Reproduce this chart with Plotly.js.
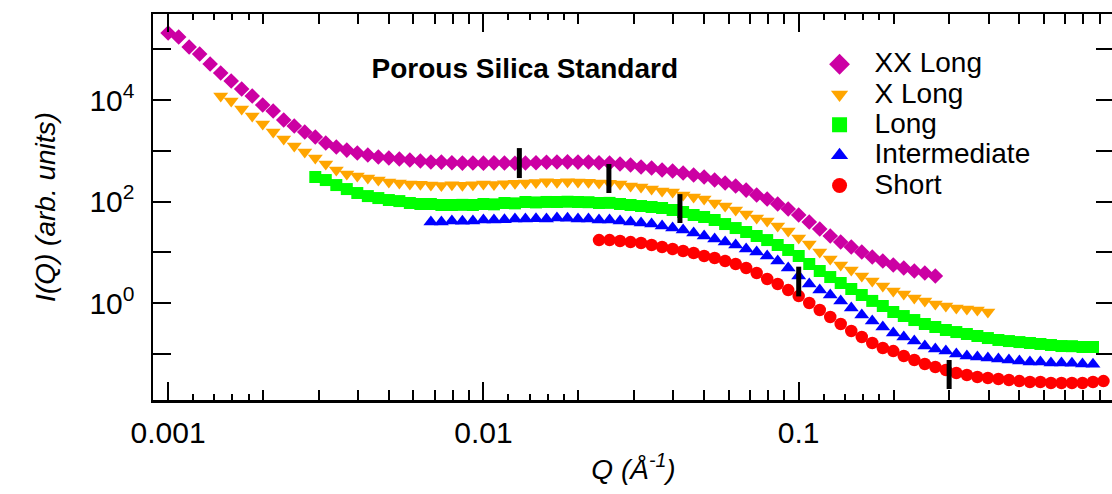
<!DOCTYPE html>
<html><head><meta charset="utf-8">
<script src="https://cdn.plot.ly/plotly-3.0.1.min.js"></script>
<style>html,body{margin:0;padding:0;overflow:hidden;background:#fff}</style>
</head><body><div id="chart"></div>
<script>
// Common Q grid (Å^-1), 30 points per decade as in the reference data
const qGrid = [
  0.001000,0.001080,0.001166,0.001259,0.001359,0.001468,0.001585,0.001711,0.001848,0.001995,
  0.002154,0.002326,0.002512,0.002712,0.002929,0.003162,0.003415,0.003687,0.003981,0.004299,
  0.004642,0.005012,0.005412,0.005843,0.006310,0.006813,0.007356,0.007943,0.008577,0.009261,
  0.01000,0.01080,0.01166,0.01259,0.01359,0.01468,0.01585,0.01711,0.01848,0.01995,
  0.02154,0.02326,0.02512,0.02712,0.02929,0.03162,0.03415,0.03687,0.03981,0.04299,
  0.04642,0.05012,0.05412,0.05843,0.06310,0.06813,0.07356,0.07943,0.08577,0.09261,
  0.1000,0.1080,0.1166,0.1259,0.1359,0.1468,0.1585,0.1711,0.1848,0.1995,
  0.2154,0.2326,0.2512,0.2712,0.2929,0.3162,0.3415,0.3687,0.3981,0.4299,
  0.4642,0.5012,0.5412,0.5843,0.6310,0.6813,0.7356,0.7943,0.8577,0.9261
];

const seriesNames = ['XX Long','X Long','Long','Intermediate','Short'];

// I(Q) values (arb. units); each series starts at the given qGrid index
const startXXLong = 0;
const iXXLong = [209000,174000,111000,80600,51200,34100,23700,16500,12000,7970,
  6070,4040,3070,2340,1870,1420,1190,1030,903,825,
  753,720,688,657,628,600,598,580,572,576,
  570,578,574,566,575,582,592,600,605,598,
  602,580,574,548,524,478,457,418,399,364,
  333,304,265,231,202,168,134,112,89.3,71.2,
  54.2,39.5,28.7,20.9,15.9,12.7,10.1,8.06,6.72,5.61,
  4.89,4.27,3.90,3.41];

const startXLong = 5;
const iXLong = [12000,9560,6650,4840,3370,2340,1700,1240,945,720,
  548,418,348,318,290,265,242,231,221,218,
  211,208,213,210,214,221,217,224,229,233,
  238,244,240,246,242,240,233,229,221,202,
  193,176,161,154,134,123,112,93.4,81.5,68.0,
  56.7,47.3,41.3,32.9,26.2,19.1,14.5,10.1,7.36,5.61,
  4.47,3.41,2.71,2.16,1.72,1.50,1.26,1.10,0.956,0.873,
  0.797,0.762,0.728,0.665];

const startLong = 14;
const iLong = [304,265,211,176,147,128,117,107,102,93.4,
  89.3,89.3,85.3,85.3,86,85.3,89.3,88,93.4,92,
  97.8,96,98,97.8,99,97.8,97,93.4,94,89.3,
  85.3,81.5,77.9,74.5,68.0,62.1,54.2,49.5,43.2,36.0,
  30.0,25.1,20.9,17.4,13.9,11.1,8.44,5.87,4.27,3.25,
  2.48,1.89,1.44,1.10,0.873,0.665,0.554,0.462,0.386,0.337,
  0.294,0.268,0.245,0.224,0.204,0.187,0.178,0.170,0.163,0.156,
  0.149,0.142,0.141,0.136,0.136];

const startIntermediate = 25;
const iIntermediate = [39.5,39.5,41.3,41,41.3,43.2,43,43.5,45.2,45,
  45.5,45.2,47.3,47,45.2,45,43.2,43,41.3,39.5,
  37.7,36.0,32.9,30.0,27.4,23.9,20.9,18.2,15.9,13.9,
  11.6,10.1,8.44,6.72,4.89,3.41,2.37,1.80,1.44,1.10,
  0.797,0.580,0.442,0.337,0.256,0.214,0.178,0.142,0.124,0.113,
  0.0989,0.0903,0.0863,0.0825,0.0788,0.0753,0.0720,0.0688,0.0685,0.0657,
  0.0655,0.0650,0.0628,0.0625];

const startShort = 41;
const iShort = [17.4,17.4,16.7,15.9,15.2,13.9,12.7,11.6,10.6,9.67,
  8.44,7.71,6.72,5.87,4.89,3.90,2.97,2.37,1.80,1.37,
  1.00,0.728,0.530,0.386,0.281,0.214,0.163,0.130,0.113,0.0903,
  0.0753,0.0628,0.0548,0.0478,0.0418,0.0381,0.0348,0.0333,0.0318,0.0304,
  0.0290,0.0278,0.0278,0.0265,0.0265,0.0265,0.0265,0.0278,0.0290];

// Vertical black marks (Q position, lower and upper I)
const markQ = [0.013, 0.025, 0.042, 0.1, 0.3];
const markLow = [290, 147, 37.7, 1.35, 0.0202];
const markHigh = [1130, 548, 140, 5.2, 0.0753];

// Tick values / labels
const xTickVals = [0.001, 0.01, 0.1, 1];
const xTickText = ['0.001', '0.01', '0.1', '1'];
const xMinorVals = [0.002,0.003,0.004,0.005,0.006,0.007,0.008,0.009,
  0.02,0.03,0.04,0.05,0.06,0.07,0.08,0.09,
  0.2,0.3,0.4,0.5,0.6,0.7,0.8,0.9];
const xSmallVals = [0.0012,0.0014,0.0016,0.0018,0.012,0.014,0.016,0.018,0.12,0.14,0.16,0.18];
const yTickVals = [0.1, 1, 10, 100, 1000, 10000, 100000];
const yTickText = ['', '10<sup>0</sup>', '', '10<sup>2</sup>', '', '10<sup>4</sup>', ''];

// Styles
const FONT = '"Liberation Sans", Arial, Helvetica, sans-serif';
const colors = ['#CC00A3', '#FFA500', '#00FF00', '#0000FF', '#FF0000'];
const symbols = ['diamond', 'triangle-down', 'square', 'triangle-up', 'circle'];
const sizes = [12, 13, 12, 13, 12.5];
const legendSizes = [16, 15, 15, 15, 15];

const seriesVals = [iXXLong, iXLong, iLong, iIntermediate, iShort];
const seriesStart = [startXXLong, startXLong, startLong, startIntermediate, startShort];

const traces = [];
seriesVals.forEach((vals, i) => {
  traces.push({
    type: 'scatter', mode: 'markers', showlegend: false, hoverinfo: 'skip',
    x: qGrid.slice(seriesStart[i], seriesStart[i] + vals.length),
    y: vals,
    marker: {symbol: symbols[i], color: colors[i], size: sizes[i], line: {width: 0}}
  });
});
// Legend entries
seriesNames.forEach((name, i) => {
  traces.push({
    type: 'scatter', mode: 'markers', xaxis: 'x2', x: [null], y: [null],
    name: '<span style="font-size:28px">' + name + '</span>',
    marker: {symbol: symbols[i], color: colors[i], size: legendSizes[i], line: {width: 0}}
  });
});
// Black marks
const mx = [], my = [];
markQ.forEach((q, i) => { mx.push(q, q, null); my.push(markLow[i], markHigh[i], null); });
traces.push({type: 'scatter', mode: 'lines', x: mx, y: my, showlegend: false, hoverinfo: 'skip',
  line: {color: '#000', width: 5}});

const axisCommon = {
  type: 'log', showgrid: false, zeroline: false,
  ticks: 'inside', tickcolor: '#000', tickwidth: 2,
  showline: true, linecolor: '#000', linewidth: 2.5, mirror: 'ticks'
};

const layout = {
  width: 1118, height: 494,
  margin: {l: 153, r: 4, t: 14, b: 94},
  paper_bgcolor: '#fff', plot_bgcolor: '#fff',
  font: {family: FONT, color: '#000'},
  title: {text: 'Porous Silica Standard', x: 0.4694, xref: 'container', xanchor: 'center',
    y: 0.862, yref: 'container', yanchor: 'middle',
    font: {family: FONT, size: 28, weight: 'bold', color: '#000'}},
  xaxis: Object.assign({}, axisCommon, {
    range: [-3.048, 0], tickmode: 'array', tickvals: xTickVals, ticktext: xTickText,
    ticklen: 18, tickfont: {size: 30}, ticklabelstandoff: 4,
    minor: {tickmode: 'array', tickvals: xMinorVals, ticks: 'inside', ticklen: 10, tickwidth: 2, tickcolor: '#000', showgrid: false},
    title: {text: '<i>Q (Å<sup>-1</sup>)</i>', font: {size: 28}, standoff: 12}
  }),
  xaxis2: {
    type: 'log', overlaying: 'x', anchor: 'y', side: 'bottom', range: [-3.048, 0],
    tickmode: 'array', tickvals: xSmallVals, ticks: 'inside', ticklen: 6, tickwidth: 2, tickcolor: '#000',
    showticklabels: false, showline: false, showgrid: false, zeroline: false, mirror: 'ticks'
  },
  yaxis: Object.assign({}, axisCommon, {
    range: [-1.911, 5.695], tickmode: 'array', tickvals: yTickVals, ticktext: yTickText,
    ticklen: 18, tickfont: {size: 30}, ticklabelstandoff: 10,
    title: {text: '<i>I(Q) (arb. units)</i>', font: {size: 28}, standoff: 26}
  }),
  showlegend: true,
  legend: {x: 0.678, xanchor: 'left', y: 0.922, yanchor: 'top', bgcolor: 'rgba(0,0,0,0)',
    borderwidth: 0, font: {size: 21, family: FONT}, itemwidth: 60, tracegroupgap: 0, itemclick: false}
};

Plotly.newPlot('chart', traces, layout, {staticPlot: true, displayModeBar: false});
</script>
</body></html>
